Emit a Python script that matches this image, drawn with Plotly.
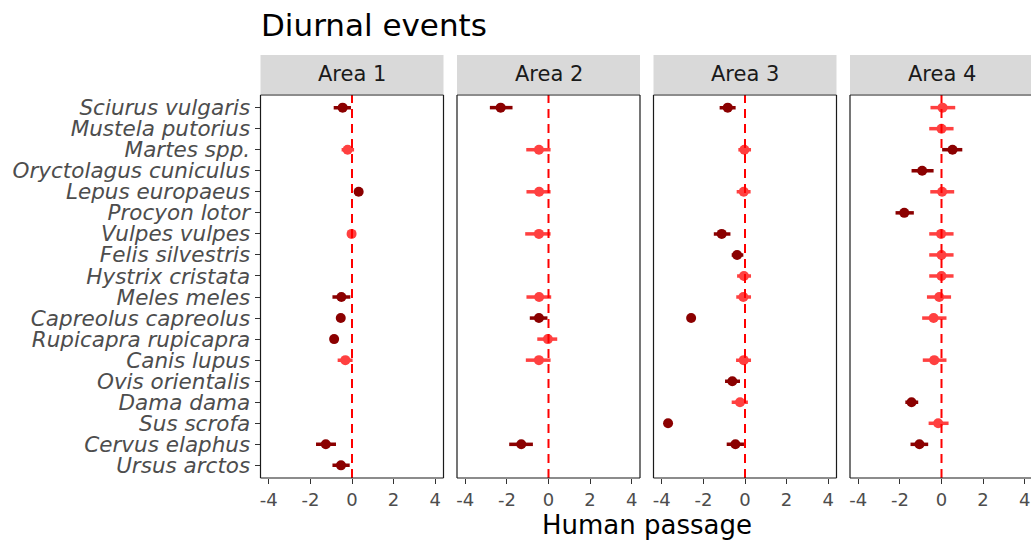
import plotly.graph_objects as go

# Species (top to bottom)
species = [
    "Sciurus vulgaris", "Mustela putorius", "Martes spp.", "Oryctolagus cuniculus",
    "Lepus europaeus", "Procyon lotor", "Vulpes vulpes", "Felis silvestris",
    "Hystrix cristata", "Meles meles", "Capreolus capreolus", "Rupicapra rupicapra",
    "Canis lupus", "Ovis orientalis", "Dama dama", "Sus scrofa",
    "Cervus elaphus", "Ursus arctos",
]

areas = ["Area 1", "Area 2", "Area 3", "Area 4"]

# Effect of human passage on diurnal events: estimate and confidence limits
area1_est = [-0.45, None, -0.21, None, 0.32, None, -0.02, None, None, -0.51, -0.54, -0.86, -0.32, None, None, None, -1.26, -0.53]
area1_lo = [-0.88, None, -0.50, None, 0.15, None, -0.20, None, None, -0.94, -0.70, -1.02, -0.69, None, None, None, -1.73, -0.94]
area1_hi = [-0.05, None, 0.10, None, 0.49, None, 0.15, None, None, -0.08, -0.38, -0.70, 0.03, None, None, None, -0.77, -0.11]

area2_est = [-2.30, None, -0.46, None, -0.45, None, -0.46, None, None, -0.45, -0.46, -0.03, -0.46, None, None, None, -1.31, None]
area2_lo = [-2.82, None, -1.07, None, -1.06, None, -1.12, None, None, -1.06, -0.90, -0.54, -1.09, None, None, None, -1.89, None]
area2_hi = [-1.73, None, 0.10, None, 0.10, None, 0.10, None, None, 0.13, -0.05, 0.42, 0.10, None, None, None, -0.75, None]

area3_est = [-0.83, None, -0.03, None, -0.06, None, -1.12, -0.38, -0.05, -0.08, -2.59, None, -0.06, -0.61, -0.24, -3.70, -0.46, None]
area3_lo = [-1.22, None, -0.32, None, -0.40, None, -1.50, -0.64, -0.38, -0.42, -2.75, None, -0.43, -0.96, -0.64, -3.85, -0.88, None]
area3_hi = [-0.45, None, 0.29, None, 0.27, None, -0.70, -0.08, 0.29, 0.29, -2.43, None, 0.29, -0.24, 0.14, -3.55, -0.05, None]

area4_est = [0.05, 0.00, 0.53, -0.93, 0.03, -1.79, -0.02, 0.00, 0.00, -0.11, -0.38, None, -0.35, None, -1.44, -0.16, -1.06, None]
area4_lo = [-0.53, -0.59, 0.03, -1.44, -0.54, -2.21, -0.59, -0.59, -0.59, -0.70, -0.93, None, -0.90, None, -1.74, -0.62, -1.49, None]
area4_hi = [0.66, 0.58, 1.00, -0.38, 0.61, -1.33, 0.58, 0.58, 0.58, 0.46, 0.24, None, 0.24, None, -1.12, 0.34, -0.64, None]

x_ticks = [-4, -2, 0, 2, 4]
x_tick_text = ["-4", "-2", "0", "2", "4"]

estimates = [area1_est, area2_est, area3_est, area4_est]
lowers = [area1_lo, area2_lo, area3_lo, area4_lo]
uppers = [area1_hi, area2_hi, area3_hi, area4_hi]

SIG_COLOR = "#8B0000"
NS_COLOR = "#FF4040"
FONT = "DejaVu Sans"

W, H = 1031, 545
panel_px = [(260.5, 443.5), (457.0, 640.0), (653.5, 836.5), (850.0, 1031.0)]
panel_top, panel_bottom = 95.0, 478.0
strip_top, strip_bottom = 55.0, 94.0


def px_x(v):
    return v / W


def px_y(v):
    return 1 - v / H


fig = go.Figure()

for k in range(4):
    xa = "x" if k == 0 else f"x{k + 1}"
    ya = "y" if k == 0 else f"y{k + 1}"
    est, lo, hi = estimates[k], lowers[k], uppers[k]
    for sig in (False, True):
        xs, ys, plus, minus = [], [], [], []
        for i, e in enumerate(est):
            if e is None:
                continue
            significant = hi[i] < 0 or lo[i] > 0
            if significant != sig:
                continue
            xs.append(e)
            ys.append(i)
            plus.append(hi[i] - e)
            minus.append(e - lo[i])
        color = SIG_COLOR if sig else NS_COLOR
        fig.add_trace(go.Scatter(
            x=xs, y=ys, mode="markers", xaxis=xa, yaxis=ya,
            marker=dict(color=color, size=10, line=dict(width=0)),
            error_x=dict(type="data", symmetric=False, array=plus, arrayminus=minus,
                         color=color, thickness=3.5, width=0),
            showlegend=False, hoverinfo="skip",
        ))

layout = dict(
    width=W, height=H,
    margin=dict(l=0, r=0, t=0, b=0),
    paper_bgcolor="white", plot_bgcolor="white",
    template="none",
    font=dict(family=FONT, color="#4D4D4D"),
    showlegend=False,
)

shapes = []
annotations = []
for k in range(4):
    sfx = "" if k == 0 else str(k + 1)
    x0, x1 = panel_px[k]
    if k < 3:
        xr = [-4.4, 4.4]
    else:
        scale = (panel_px[0][1] - panel_px[0][0]) / 8.8
        zero_px = panel_px[3][0] + 4.4 * scale
        xr = [-4.4, (x1 - zero_px) / scale]
    layout["xaxis" + sfx] = dict(
        domain=[px_x(x0), px_x(x1)], anchor="y" + sfx, range=xr,
        tickmode="array", tickvals=x_ticks, ticktext=x_tick_text,
        ticks="outside", ticklen=5, tickwidth=1, tickcolor="#333333",
        tickfont=dict(family=FONT, size=18, color="#4D4D4D"),
        showgrid=False, zeroline=False, showline=False, automargin=False,
    )
    layout["yaxis" + sfx] = dict(
        domain=[px_y(panel_bottom), px_y(panel_top)], anchor="x" + sfx,
        range=[len(species) - 0.4, -0.6],
        tickmode="array", tickvals=list(range(len(species))), ticktext=species,
        ticks="outside" if k == 0 else "", ticklen=5, tickwidth=1, tickcolor="#333333",
        showticklabels=(k == 0),
        tickfont=dict(family=FONT, size=21.5, color="#4D4D4D", style="italic"),
        showgrid=False, zeroline=False, showline=False, automargin=False,
    )
    # reference line at zero
    shapes.append(dict(type="line", xref="x" + sfx, yref="y" + sfx + " domain",
                       x0=0, x1=0, y0=0, y1=1, layer="above",
                       line=dict(color="#FF0000", width=2, dash="9px,6px")))
    # panel frame
    fx0, fx1 = px_x(x0), px_x(x1)
    fy0, fy1 = px_y(panel_bottom), px_y(panel_top)
    frame_line = dict(color="#1A1A1A", width=1.2)
    shapes.append(dict(type="line", xref="paper", yref="paper", x0=fx0, x1=fx0, y0=fy0, y1=fy1, line=frame_line))
    shapes.append(dict(type="line", xref="paper", yref="paper", x0=fx0, x1=fx1, y0=fy0, y1=fy0, line=frame_line))
    shapes.append(dict(type="line", xref="paper", yref="paper", x0=fx0, x1=fx1, y0=fy1, y1=fy1, line=frame_line))
    if k < 3:
        shapes.append(dict(type="line", xref="paper", yref="paper", x0=fx1, x1=fx1, y0=fy0, y1=fy1, line=frame_line))
    # facet strip
    shapes.append(dict(type="rect", xref="paper", yref="paper",
                       x0=fx0, x1=px_x(panel_px[k][0] + 183.0), y0=px_y(strip_bottom), y1=px_y(strip_top),
                       fillcolor="#D9D9D9", line=dict(width=0), layer="below"))
    annotations.append(dict(text=areas[k], xref="paper", yref="paper",
                            x=px_x((x0 + x0 + 183.0) / 2), y=px_y((strip_top + strip_bottom) / 2),
                            xanchor="center", yanchor="middle", showarrow=False,
                            font=dict(family=FONT, size=21, color="#1A1A1A")))

annotations.append(dict(text="Diurnal events", xref="paper", yref="paper",
                        x=px_x(259), y=px_y(25), xanchor="left", yanchor="middle",
                        showarrow=False, font=dict(family=FONT, size=31, color="black")))
annotations.append(dict(text="Human passage", xref="paper", yref="paper",
                        x=px_x(647), y=px_y(525), xanchor="center", yanchor="middle",
                        showarrow=False, font=dict(family=FONT, size=26, color="black")))

layout["shapes"] = shapes
layout["annotations"] = annotations
fig.update_layout(**layout)

fig.write_html("out.html")
